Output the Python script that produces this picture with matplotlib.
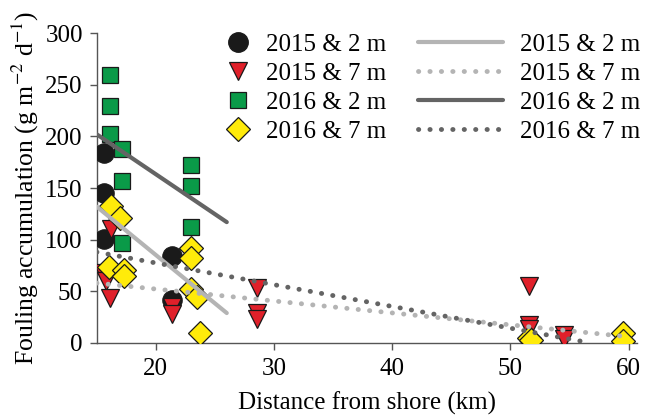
import matplotlib.pyplot as plt
from matplotlib.lines import Line2D

plt.rcParams['font.family'] = ['Liberation Serif', 'DejaVu Serif']
plt.rcParams['mathtext.fontset'] = 'stix'

# Fouling accumulation (g m-2 d-1) vs distance from shore (km)
circ_x = [15.6, 15.6, 15.6, 21.4, 21.4]
circ_y = [184, 145, 101, 84, 42]

tri_x = [16.2, 15.5, 15.8, 16.1, 21.4, 21.4, 28.6, 28.6, 28.6, 51.6, 51.6, 51.6, 54.5, 54.5]
tri_y = [110, 68, 60, 44, 35, 28, 53, 29, 23, 55, 17, 14, 8, 4]

sq_x = [16.1, 16.1, 16.1, 17.1, 17.1, 17.1, 23.0, 23.0, 23.0]
sq_y = [259, 229, 202, 188, 157, 97, 172, 152, 112]

dia_x = [16.2, 17.0, 16.0, 17.3, 17.3, 23.0, 23.0, 23.0, 23.5, 23.7, 51.6, 51.7, 59.5, 59.5]
dia_y = [133, 121, 74, 71, 65, 92, 82, 52, 45, 10, 5, 3, 10, 2]

# fitted lines, end points
fit15_2_x, fit15_2_y = [15.0, 26.0], [132, 29]
fit15_7_x, fit15_7_y = [15.0, 60.0], [58, 6]
fit16_2_x, fit16_2_y = [15.0, 26.0], [202, 117]
fit16_7_x, fit16_7_y = [15.0, 56.8], [88, 0]

labels = ['2015 & 2 m', '2015 & 7 m', '2016 & 2 m', '2016 & 7 m']

light = '#b4b4b4'
dark = '#646464'
dots = (0, (0.05, 2.3))
FS = 18

fig = plt.figure(figsize=(6.47, 4.16), dpi=100)
ax = fig.add_axes([0.1495, 0.1755, 0.835, 0.745])

ax.plot(circ_x, circ_y, 'o', ms=14, mfc='#1a1a1a', mec='#1a1a1a', mew=0.8, ls='none', zorder=3)
ax.plot(tri_x, tri_y, 'v', ms=13, mfc='#e0202a', mec='#1a1a1a', mew=0.9, ls='none', zorder=3)
ax.plot(sq_x, sq_y, 's', ms=12, mfc='#0a9a48', mec='#1a1a1a', mew=0.9, ls='none', zorder=3)
ax.plot(dia_x, dia_y, 'D', ms=12, mfc='#ffeb0a', mec='#1a1a1a', mew=0.9, ls='none', zorder=3)

ax.plot(fit15_2_x, fit15_2_y, color=light, lw=3, solid_capstyle='round', zorder=4)
ax.plot(fit15_7_x, fit15_7_y, color=light, lw=3.5, ls=dots, dash_capstyle='round', zorder=4)
ax.plot(fit16_2_x, fit16_2_y, color=dark, lw=3, solid_capstyle='round', zorder=4)
ax.plot(fit16_7_x, fit16_7_y, color=dark, lw=3.5, ls=dots, dash_capstyle='round', zorder=4)

ax.set_xlim(15, 60.7)
ax.set_ylim(0, 300)
ax.set_xticks([20, 30, 40, 50, 60])
ax.set_yticks([0, 50, 100, 150, 200, 250, 300])
ax.tick_params(labelsize=FS, length=5, width=1, color='#555555', direction='out')
ax.tick_params(axis='y', pad=5)
ax.tick_params(axis='x', pad=6)
for s in ['top', 'right']:
    ax.spines[s].set_visible(False)
for s in ['left', 'bottom']:
    ax.spines[s].set_color('#555555')
    ax.spines[s].set_linewidth(1)

ax.set_xlabel('Distance from shore (km)', fontsize=FS, labelpad=8)
ax.set_ylabel('Fouling accumulation (g m$^{-2}$ d$^{-1}$)', fontsize=18.5, labelpad=3)

mk = [
    Line2D([], [], marker='o', ms=14, mfc='#1a1a1a', mec='#1a1a1a', ls='none'),
    Line2D([], [], marker='v', ms=13, mfc='#e0202a', mec='#1a1a1a', mew=0.9, ls='none'),
    Line2D([], [], marker='s', ms=12, mfc='#0a9a48', mec='#1a1a1a', mew=0.9, ls='none'),
    Line2D([], [], marker='D', ms=12, mfc='#ffeb0a', mec='#1a1a1a', mew=0.9, ls='none'),
]
ln = [
    Line2D([], [], color=light, lw=3, solid_capstyle='round'),
    Line2D([], [], color=light, lw=3.5, ls=dots, dash_capstyle='round'),
    Line2D([], [], color=dark, lw=3, solid_capstyle='round'),
    Line2D([], [], color=dark, lw=3.5, ls=dots, dash_capstyle='round'),
]
leg1 = ax.legend(mk, labels, loc='upper left', bbox_to_anchor=(0.238, 1.0), frameon=False,
                 fontsize=FS, handlelength=1.0, handletextpad=0.62, labelspacing=0.26,
                 borderpad=0, borderaxespad=0)
ax.add_artist(leg1)
ax.legend(ln, labels, loc='upper left', bbox_to_anchor=(0.595, 1.0), frameon=False,
          fontsize=FS, handlelength=3.4, handletextpad=0.68, labelspacing=0.26,
          borderpad=0, borderaxespad=0)

fig.savefig('out.png', dpi=100)
